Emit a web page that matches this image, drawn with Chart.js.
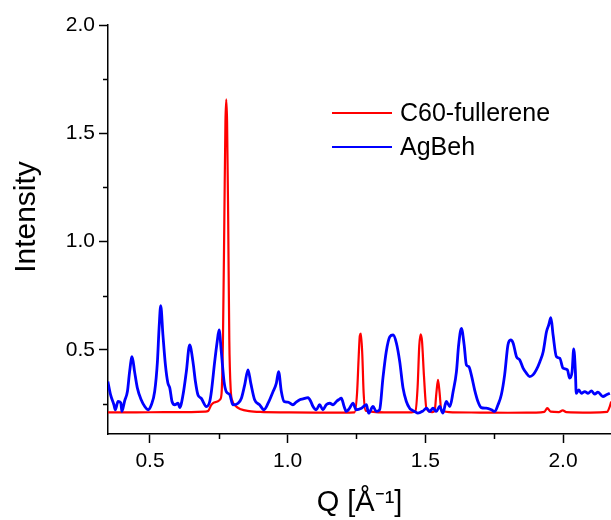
<!DOCTYPE html>
<html lang="en">
<head>
  <meta charset="UTF-8" />
  <title>C60-fullerene / AgBeh</title>
  <script src="https://cdn.jsdelivr.net/npm/chart.js"></script>
  <style>
    body {
      margin: 0;
      background: #ffffff;
      overflow: hidden;
    }

    .chart-box {
      position: relative;
      width: 611px;
      height: 520px;
    }
  </style>
</head>
<body>

<div class="chart-box">
  <canvas id="saxsChart"></canvas>
</div>

<script>
  // series
  const seriesNames = ['C60-fullerene', 'AgBeh'];
  const seriesColors = ['#ff0000', '#0000ff'];

  const c60Q = [0.347, 0.45, 0.55, 0.65, 0.70, 0.711, 0.722, 0.729, 0.745, 0.755,
    0.760, 0.765, 0.770, 0.774, 0.777, 0.780, 0.784, 0.788, 0.793, 0.800,
    0.810, 0.830, 0.860, 0.90, 1.00, 1.10, 1.20, 1.243, 1.252, 1.258,
    1.262, 1.266, 1.271, 1.276, 1.283, 1.35, 1.45, 1.464, 1.472, 1.478,
    1.483, 1.488, 1.495, 1.504, 1.525, 1.534, 1.540, 1.546, 1.552, 1.558,
    1.60, 1.70, 1.80, 1.90, 1.932, 1.943, 1.955, 1.985, 1.999, 2.012,
    2.10, 2.160, 2.170, 2.175];
  const c60I = [0.212, 0.212, 0.213, 0.213, 0.215, 0.218, 0.245, 0.255, 0.262, 0.272,
    0.30, 0.55, 1.10, 1.55, 1.657, 1.55, 1.10, 0.55, 0.32, 0.262,
    0.242, 0.226, 0.218, 0.214, 0.212, 0.211, 0.211, 0.212, 0.30, 0.47,
    0.565, 0.575, 0.48, 0.30, 0.22, 0.212, 0.212, 0.218, 0.33, 0.52,
    0.572, 0.54, 0.38, 0.23, 0.213, 0.22, 0.30, 0.362, 0.30, 0.22,
    0.212, 0.211, 0.210, 0.211, 0.214, 0.231, 0.215, 0.213, 0.221, 0.213,
    0.211, 0.214, 0.240, 0.262];

  const agbehQ = [0.347, 0.357, 0.369, 0.374, 0.384, 0.394, 0.398, 0.408, 0.418, 0.426,
    0.435, 0.444, 0.454, 0.468, 0.481, 0.493, 0.505, 0.517, 0.527, 0.533,
    0.539, 0.547, 0.556, 0.565, 0.572, 0.580, 0.590, 0.602, 0.608, 0.620,
    0.632, 0.644, 0.656, 0.665, 0.674, 0.686, 0.705, 0.717, 0.723, 0.735,
    0.744, 0.751, 0.759, 0.769, 0.777, 0.790, 0.801, 0.820, 0.832, 0.844,
    0.856, 0.866, 0.880, 0.898, 0.914, 0.929, 0.947, 0.959, 0.967, 0.977,
    0.987, 1.001, 1.019, 1.031, 1.044, 1.056, 1.074, 1.084, 1.092, 1.104,
    1.116, 1.128, 1.140, 1.153, 1.165, 1.177, 1.185, 1.195, 1.205, 1.213,
    1.225, 1.237, 1.249, 1.268, 1.286, 1.294, 1.310, 1.322, 1.334, 1.346,
    1.358, 1.371, 1.383, 1.395, 1.407, 1.419, 1.431, 1.443, 1.449, 1.461,
    1.473, 1.492, 1.504, 1.516, 1.528, 1.540, 1.552, 1.564, 1.576, 1.589,
    1.601, 1.613, 1.621, 1.631, 1.641, 1.649, 1.658, 1.667, 1.679, 1.691,
    1.703, 1.721, 1.740, 1.752, 1.764, 1.776, 1.788, 1.800, 1.810, 1.819,
    1.831, 1.843, 1.855, 1.867, 1.879, 1.891, 1.903, 1.916, 1.928, 1.940,
    1.948, 1.956, 1.964, 1.976, 1.988, 2.000, 2.016, 2.024, 2.033, 2.039,
    2.045, 2.048, 2.057, 2.067, 2.079, 2.091, 2.103, 2.115, 2.127, 2.145,
    2.158, 2.170];
  const agbehI = [0.354, 0.293, 0.247, 0.224, 0.262, 0.256, 0.216, 0.265, 0.308, 0.400,
    0.469, 0.400, 0.325, 0.270, 0.239, 0.224, 0.247, 0.308, 0.446, 0.600,
    0.704, 0.569, 0.431, 0.347, 0.324, 0.262, 0.247, 0.254, 0.234, 0.293,
    0.400, 0.523, 0.446, 0.354, 0.293, 0.277, 0.239, 0.262, 0.308, 0.446,
    0.538, 0.592, 0.492, 0.354, 0.308, 0.293, 0.247, 0.254, 0.277, 0.339,
    0.408, 0.347, 0.270, 0.247, 0.224, 0.254, 0.308, 0.347, 0.400, 0.308,
    0.262, 0.259, 0.247, 0.259, 0.270, 0.274, 0.280, 0.262, 0.239, 0.224,
    0.247, 0.224, 0.247, 0.254, 0.247, 0.262, 0.270, 0.277, 0.239, 0.216,
    0.231, 0.254, 0.224, 0.231, 0.247, 0.208, 0.239, 0.216, 0.224, 0.370,
    0.492, 0.561, 0.569, 0.531, 0.446, 0.324, 0.262, 0.231, 0.224, 0.216,
    0.208, 0.219, 0.231, 0.216, 0.231, 0.216, 0.239, 0.208, 0.262, 0.239,
    0.308, 0.400, 0.523, 0.600, 0.523, 0.431, 0.423, 0.385, 0.316, 0.262,
    0.234, 0.231, 0.224, 0.216, 0.247, 0.293, 0.385, 0.523, 0.546, 0.531,
    0.469, 0.454, 0.416, 0.393, 0.377, 0.385, 0.408, 0.446, 0.492, 0.584,
    0.615, 0.649, 0.569, 0.469, 0.462, 0.416, 0.408, 0.370, 0.400, 0.505,
    0.400, 0.300, 0.316, 0.300, 0.308, 0.300, 0.311, 0.296, 0.305, 0.285,
    0.293, 0.300];

  // axes
  const xMin = 0.3475, xMax = 2.1743;
  const yMin = 0.112, yMax = 2.0;
  const xMajor = [0.5, 1.0, 1.5, 2.0];
  const xMinor = [0.75, 1.25, 1.75];
  const yMajor = [0.5, 1.0, 1.5, 2.0];
  const yMinor = [0.25, 0.75, 1.25, 1.75];

  const FONT = "'Liberation Sans', Arial, Helvetica, sans-serif";

  function toPoints(qs, is) {
    const n = Math.min(qs.length, is.length);
    const pts = [];
    for (let i = 0; i < n; i++) pts.push({ x: qs[i], y: is[i] });
    return pts;
  }

  // short minor ticks, drawn on the library scales
  const minorTicks = {
    id: 'minorTicks',
    afterDraw(chart) {
      const ctx = chart.ctx;
      const xs = chart.scales.x, ys = chart.scales.y;
      ctx.save();
      ctx.strokeStyle = '#000';
      ctx.lineWidth = 1.5;
      ctx.beginPath();
      xMinor.forEach(v => {
        const px = Math.round(xs.getPixelForValue(v)) + 0.5;
        ctx.moveTo(px, xs.top);
        ctx.lineTo(px, xs.top + 5);
      });
      yMinor.forEach(v => {
        const py = Math.round(ys.getPixelForValue(v)) + 0.5;
        ctx.moveTo(ys.right, py);
        ctx.lineTo(ys.right - 5, py);
      });
      ctx.stroke();
      ctx.restore();
    }
  };

  // legend inside the plot, upper right
  const insideLegend = {
    id: 'insideLegend',
    afterDraw(chart) {
      const ctx = chart.ctx;
      ctx.save();
      ctx.font = '25px ' + FONT;
      ctx.textBaseline = 'middle';
      ctx.fillStyle = '#000';
      seriesNames.forEach((name, i) => {
        const y = 113 + i * 34;
        ctx.strokeStyle = seriesColors[i];
        ctx.lineWidth = 2;
        ctx.beginPath();
        ctx.moveTo(332, y);
        ctx.lineTo(392, y);
        ctx.stroke();
        ctx.fillText(name, 400, y + 1);
      });
      ctx.restore();
    }
  };

  const ctx = document.getElementById('saxsChart').getContext('2d');

  const chart = new Chart(ctx, {
    type: 'line',
    data: {
      datasets: [
        {
          label: seriesNames[0],
          data: toPoints(c60Q, c60I),
          borderColor: seriesColors[0],
          borderWidth: 2.2,
          pointRadius: 0,
          cubicInterpolationMode: 'monotone',
          order: 1
        },
        {
          label: seriesNames[1],
          data: toPoints(agbehQ, agbehI),
          borderColor: seriesColors[1],
          borderWidth: 2.8,
          pointRadius: 0,
          cubicInterpolationMode: 'monotone',
          order: 0
        }
      ]
    },
    options: {
      responsive: true,
      maintainAspectRatio: false,
      animation: false,
      layout: {
        padding: { top: 25, right: 0, bottom: 0, left: 0 }
      },
      plugins: {
        legend: { display: false },
        tooltip: { enabled: false }
      },
      scales: {
        x: {
          type: 'linear',
          min: xMin,
          max: xMax,
          afterFit: s => { s.height = 86; },
          afterBuildTicks: s => { s.ticks = xMajor.map(v => ({ value: v })); },
          border: { display: true, color: '#000', width: 1.5 },
          grid: {
            drawOnChartArea: false,
            drawTicks: true,
            tickLength: 9,
            tickColor: '#000',
            tickWidth: 1.5
          },
          ticks: {
            color: '#000',
            padding: 6,
            maxRotation: 0,
            font: { family: FONT, size: 21 },
            callback: v => v.toFixed(1)
          },
          title: {
            display: true,
            text: 'Q [Å⁻¹]',
            color: '#000',
            font: { family: FONT, size: 29 },
            padding: { top: 0, bottom: 0 }
          }
        },
        y: {
          type: 'linear',
          min: yMin,
          max: yMax,
          afterFit: s => { s.width = 108; },
          afterBuildTicks: s => { s.ticks = yMajor.map(v => ({ value: v })); },
          border: { display: true, color: '#000', width: 1.5 },
          grid: {
            drawOnChartArea: false,
            drawTicks: true,
            tickLength: 9,
            tickColor: '#000',
            tickWidth: 1.5
          },
          ticks: {
            color: '#000',
            padding: 4,
            font: { family: FONT, size: 21 },
            callback: v => v.toFixed(1)
          },
          title: {
            display: true,
            // leading spaces lift the label a little above the axis middle
            text: '\u00a0\u00a0\u00a0Intensity',
            color: '#000',
            font: { family: FONT, size: 30 },
            padding: { top: 9, bottom: 0 }
          }
        }
      }
    },
    plugins: [minorTicks, insideLegend]
  });
</script>

</body>
</html>
